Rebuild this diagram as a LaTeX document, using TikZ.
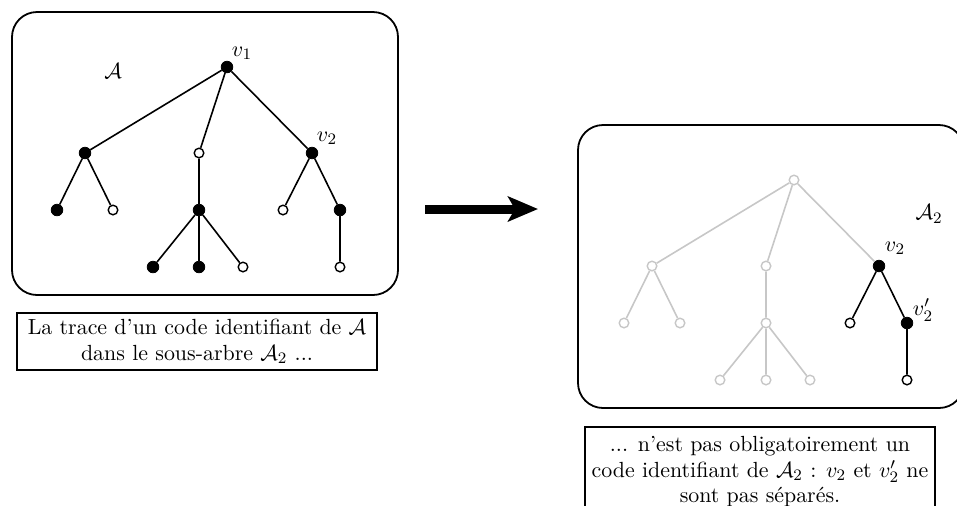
\documentclass[tikz,border=0pt]{standalone}
\usetikzlibrary{arrows.meta}
\begin{document}
\begin{tikzpicture}[x=0.5pt,y=-0.5pt,
  every node/.style={font=\fontsize{10.95}{12.7}\selectfont},
  full/.style={circle,fill=black,draw=black,inner sep=0pt,minimum size=5.8pt},
  empty/.style={circle,fill=white,draw=black,line width=0.7pt,inner sep=0pt,minimum size=4.8pt},
  gempty/.style={circle,fill=white,draw=black!22,line width=0.7pt,inner sep=0pt,minimum size=4.8pt},
  edge/.style={line width=0.8pt},
  gedge/.style={line width=0.8pt,draw=black!22},
  frame/.style={draw,line width=0.9pt,rounded corners=12.5pt},
  caption/.style={draw,line width=0.8pt,align=center,inner sep=2pt}]
\useasboundingbox (0,0) rectangle (957,505);
% left frame
\draw[frame] (12,12) rectangle (398,295);
% left tree
\node[full] (r) at (227,67) {};
\node[full] (a) at (85,153) {};
\node[empty] (b) at (199,153) {};
\node[full] (c) at (312,153) {};
\node[full] (a1) at (57,210) {};
\node[empty] (a2) at (113,210) {};
\node[full] (b1) at (199,210) {};
\node[empty] (c1) at (283,210) {};
\node[full] (c2) at (340,210) {};
\node[full] (b11) at (153,267) {};
\node[full] (b12) at (199,267) {};
\node[empty] (b13) at (243,267) {};
\node[empty] (c21) at (340,267) {};
\draw[edge] (r) -- (a) (r) -- (b) (r) -- (c)
  (a) -- (a1) (a) -- (a2) (b) -- (b1) (c) -- (c1) (c) -- (c2)
  (b1) -- (b11) (b1) -- (b12) (b1) -- (b13) (c2) -- (c21);
\node (lv1) at (242,53) {$v_1$};
\node (lA) at (113,71) {$\mathcal{A}$};
\node (lv2) at (327,138) {$v_2$};
\node[caption,minimum width=180pt,minimum height=28.5pt] (cap1) at (197,341.5)
  {La trace d'un code identifiant de $\mathcal{A}$\\dans le sous-arbre $\mathcal{A}_2$ ...};
% arrow
\coordinate (as) at (425,209);
\coordinate (ae) at (538,209);
\draw[line width=4.5pt,-{Stealth[length=15pt,width=12.5pt,inset=3.5pt]}] (as) -- (ae);
% right frame
\draw[frame] (578,125) rectangle (964,408);
\begin{scope}[shift={(567,113)}]
\node[gempty] (R) at (227,67) {};
\node[gempty] (A) at (85,153) {};
\node[gempty] (B) at (199,153) {};
\node[full] (C) at (312,153) {};
\node[gempty] (A1) at (57,210) {};
\node[gempty] (A2) at (113,210) {};
\node[gempty] (B1) at (199,210) {};
\node[empty] (C1) at (283,210) {};
\node[full] (C2) at (340,210) {};
\node[gempty] (B11) at (153,267) {};
\node[gempty] (B12) at (199,267) {};
\node[gempty] (B13) at (243,267) {};
\node[empty] (C21) at (340,267) {};
\end{scope}
\draw[gedge] (R) -- (A) (R) -- (B) (R) -- (C)
  (A) -- (A1) (A) -- (A2) (B) -- (B1)
  (B1) -- (B11) (B1) -- (B12) (B1) -- (B13);
\draw[edge] (C) -- (C1) (C) -- (C2) (C2) -- (C21);
\node (rA2) at (929,214) {$\mathcal{A}_2$};
\node (rv2) at (895,248) {$v_2$};
\node (rv2p) at (923,310) {$v_2'$};
\node[caption,anchor=north,minimum width=175pt,minimum height=45pt] (cap2) at (760,426)
  {... n'est pas obligatoirement un\\code identifiant de $\mathcal{A}_2$ : $v_2$ et $v_2'$ ne\\sont pas séparés.};
\end{tikzpicture}
\end{document}
